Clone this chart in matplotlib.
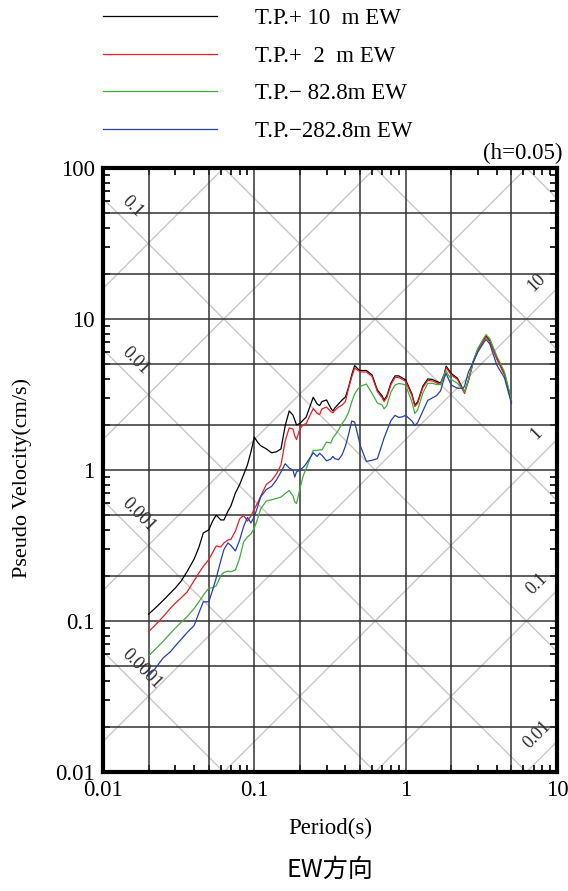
import numpy as np
import matplotlib
matplotlib.use("Agg")
import matplotlib.pyplot as plt

plt.rcParams['font.family'] = ['Liberation Serif', 'Noto Sans CJK JP', 'DejaVu Sans']
plt.rcParams['mathtext.fontset'] = 'stix'

# periods (s)
period = [0.02, 0.022, 0.025, 0.028, 0.03, 0.033, 0.036, 0.04, 0.043, 0.046,
          0.05, 0.053, 0.056, 0.06, 0.063, 0.067, 0.07, 0.075, 0.08, 0.085,
          0.09, 0.095, 0.1, 0.105, 0.11, 0.12, 0.13, 0.14, 0.15, 0.16,
          0.17, 0.18, 0.185, 0.19, 0.2, 0.21, 0.22, 0.245, 0.26, 0.27,
          0.28, 0.3, 0.32, 0.33, 0.34, 0.36, 0.38, 0.4, 0.42, 0.44,
          0.46, 0.48, 0.5, 0.55, 0.6, 0.65, 0.7, 0.72, 0.75, 0.8,
          0.85, 0.9, 0.95, 1.0, 1.1, 1.15, 1.2, 1.3, 1.4, 1.5,
          1.6, 1.7, 1.8, 1.85, 2.0, 2.2, 2.4, 2.45, 2.6, 2.8,
          3.0, 3.3, 3.4, 3.6, 4.0, 4.5, 5.0]

# pseudo velocity (cm/s)
pv_p10 = [0.111, 0.121, 0.137, 0.154, 0.165, 0.185, 0.213, 0.257, 0.307, 0.383,
          0.401, 0.459, 0.503, 0.467, 0.467, 0.535, 0.578, 0.705, 0.801, 0.933,
          1.08, 1.32, 1.65, 1.53, 1.45, 1.38, 1.30, 1.32, 1.38, 1.97,
          2.46, 2.31, 2.14, 1.99, 2.03, 2.14, 2.24, 3.03, 2.74, 2.67,
          2.84, 2.91, 2.57, 2.46, 2.57, 2.74, 2.91, 3.04, 3.55, 4.26,
          4.92, 4.70, 4.56, 4.56, 4.26, 3.39, 3.09, 2.91, 3.09, 3.77,
          4.20, 4.20, 4.07, 3.95, 3.19, 2.69, 2.82, 3.60, 4.01, 3.98,
          3.86, 3.77, 4.32, 4.88, 4.36, 4.05, 3.39, 3.29, 3.95, 5.27,
          6.33, 7.38, 7.71, 7.15, 5.52, 4.32, 2.86]
pv_p2 = [0.0849, 0.0933, 0.107, 0.122, 0.131, 0.143, 0.156, 0.185, 0.208, 0.230,
         0.255, 0.284, 0.314, 0.309, 0.329, 0.344, 0.347, 0.394, 0.474, 0.500,
         0.459, 0.496, 0.552, 0.604, 0.668, 0.802, 0.852, 0.941, 1.08, 1.56,
         1.90, 1.87, 1.68, 1.59, 1.87, 1.99, 2.03, 2.55, 2.37, 2.33,
         2.54, 2.61, 2.44, 2.39, 2.48, 2.61, 2.69, 2.84, 3.49, 4.13,
         4.73, 4.59, 4.46, 4.46, 4.16, 3.31, 3.00, 2.84, 3.02, 3.68,
         4.10, 4.10, 3.98, 3.86, 3.11, 2.63, 2.76, 3.52, 3.92, 3.89,
         3.77, 3.68, 4.22, 4.77, 4.26, 3.98, 3.34, 3.21, 3.89, 5.19,
         6.23, 7.26, 7.60, 7.04, 5.43, 4.26, 2.82]
pv_m828 = [0.0586, 0.0645, 0.0734, 0.0833, 0.0895, 0.0985, 0.107, 0.121, 0.134, 0.148,
           0.165, 0.166, 0.171, 0.200, 0.210, 0.214, 0.212, 0.218, 0.261, 0.334,
           0.360, 0.377, 0.413, 0.474, 0.552, 0.623, 0.635, 0.648, 0.662, 0.699,
           0.731, 0.673, 0.614, 0.600, 0.748, 0.913, 1.02, 1.35, 1.35, 1.36,
           1.36, 1.53, 1.51, 1.63, 1.69, 1.84, 2.03, 2.18, 2.42, 2.82,
           3.19, 3.41, 3.57, 3.71, 3.21, 2.78, 2.69, 2.54, 2.67, 3.29,
           3.65, 3.74, 3.71, 3.65, 2.82, 2.37, 2.50, 3.24, 3.75, 3.75,
           3.68, 3.68, 4.32, 4.52, 3.98, 3.75, 3.41, 3.29, 3.95, 5.27,
           6.38, 7.54, 7.89, 7.38, 5.69, 4.46, 2.91]
pv_m2828 = [0.0432, 0.0481, 0.0570, 0.0628, 0.0683, 0.0760, 0.0839, 0.0933, 0.113, 0.134,
            0.134, 0.160, 0.193, 0.250, 0.298, 0.329, 0.316, 0.291, 0.344, 0.423,
            0.485, 0.446, 0.492, 0.569, 0.662, 0.743, 0.778, 0.859, 0.970, 1.10,
            1.03, 1.00, 0.899, 0.971, 1.00, 1.04, 1.10, 1.30, 1.23, 1.29,
            1.25, 1.15, 1.18, 1.23, 1.19, 1.17, 1.26, 1.44, 1.73, 2.11,
            2.08, 1.75, 1.46, 1.14, 1.16, 1.19, 1.49, 1.63, 1.81, 2.13,
            2.30, 2.23, 2.25, 2.30, 2.11, 1.97, 2.06, 2.46, 2.89, 3.00,
            3.11, 3.34, 4.07, 4.36, 3.65, 3.48, 3.48, 3.60, 4.46, 5.19,
            6.04, 7.04, 7.31, 6.83, 4.96, 4.07, 2.76]

series_labels = ["T.P.+ 10  m EW", "T.P.+  2  m EW", "T.P.\u2212 82.8m EW", "T.P.\u2212282.8m EW"]
series_colors = ["#000000", "#ee1c24", "#3fae3a", "#2342a8"]

# tripartite guide lines: displacement (cm) and acceleration (cm/s2)
disp_levels = [1e-4, 1e-3, 1e-2, 1e-1, 1e0, 1e1, 1e2]
acc_levels = [1e-2, 1e-1, 1e0, 1e1, 1e2, 1e3, 1e4]
disp_labels = ["0.1", "0.01", "0.001", "0.0001"]
acc_labels = ["10", "1", "0.1", "0.01"]

fig = plt.figure(figsize=(5.68, 8.91), dpi=100)
ax = fig.add_axes([103 / 568, 119 / 891, 454 / 568, 604 / 891])
ax.set_xscale('log')
ax.set_yscale('log')
ax.set_xlim(0.01, 10)
ax.set_ylim(0.01, 100)

tt = np.array([0.01, 10.0])
for d in disp_levels:
    ax.plot(tt, 2 * np.pi * d / tt, color='#c8c8c8', lw=1.0, zorder=1)
for a in acc_levels:
    ax.plot(tt, a * tt / (2 * np.pi), color='#c8c8c8', lw=1.0, zorder=1)

# grid at 1, 2, 5
for dec in [0.01, 0.1, 1]:
    for m in [1, 2, 5]:
        if dec * m > 0.01:
            ax.axvline(dec * m, color='#333333', lw=1.1, zorder=2)
for dec in [0.01, 0.1, 1, 10]:
    for m in [1, 2, 5]:
        if 0.01 < dec * m < 100:
            ax.axhline(dec * m, color='#333333', lw=1.1, zorder=2)

t0 = 0.0133
for s in disp_labels:
    d = float(s)
    ax.annotate(s, xy=(t0, 2 * np.pi * d / t0), xytext=(0, 11), textcoords='offset points',
                rotation=-45, rotation_mode='anchor', ha='left', va='baseline',
                fontsize=13, color='#2a2a2a', zorder=3)
t1 = 7.36
for s in acc_labels:
    a = float(s)
    ax.annotate(s, xy=(t1, a * t1 / (2 * np.pi)), xytext=(0, 19), textcoords='offset points',
                rotation=45, rotation_mode='anchor', ha='center', va='center',
                fontsize=13, color='#2a2a2a', zorder=3)

handles = []
for vals, lab, col in zip([pv_p10, pv_p2, pv_m828, pv_m2828], series_labels, series_colors):
    h, = ax.plot(period, vals, color=col, lw=0.9, label=lab, zorder=4)
    handles.append(h)

ax.set_xticks([0.01, 0.1, 1, 10])
ax.set_xticklabels(["0.01", "0.1", "1", "10"])
ax.set_yticks([0.01, 0.1, 1, 10, 100])
ax.set_yticklabels(["0.01", "0.1", "1", "10", "100"])
ax.tick_params(which='major', direction='in', length=0, labelsize=16.5, pad=6)
ax.tick_params(which='minor', direction='in', length=5, width=1.2,
               top=True, right=True, labelleft=False, labelbottom=False)
for sp in ax.spines.values():
    sp.set_linewidth(3)
    sp.set_zorder(5)

ax.set_xlabel("Period(s)", fontsize=16.5)
ax.xaxis.set_label_coords(0.5, -0.076)
ax.set_ylabel("Pseudo Velocity(cm/s)", fontsize=16)
ax.yaxis.set_label_coords(-0.156, 0.487)

ax.text(1.013, 1.006, "(h=0.05)", transform=ax.transAxes, ha='right', va='bottom', fontsize=16.5)
ax.text(0.5, -0.162, "EW方向", transform=ax.transAxes, ha='center', va='center',
        fontsize=18, family=['Noto Sans CJK JP', 'DejaVu Sans'])

fig.legend(handles=handles, loc='upper left', bbox_to_anchor=(103 / 568, 1 - 8 / 891),
           frameon=False, fontsize=16.5, handlelength=4.98, handletextpad=1.66,
           labelspacing=0.72, borderpad=0, borderaxespad=0)

fig.savefig("out.png", dpi=100)
